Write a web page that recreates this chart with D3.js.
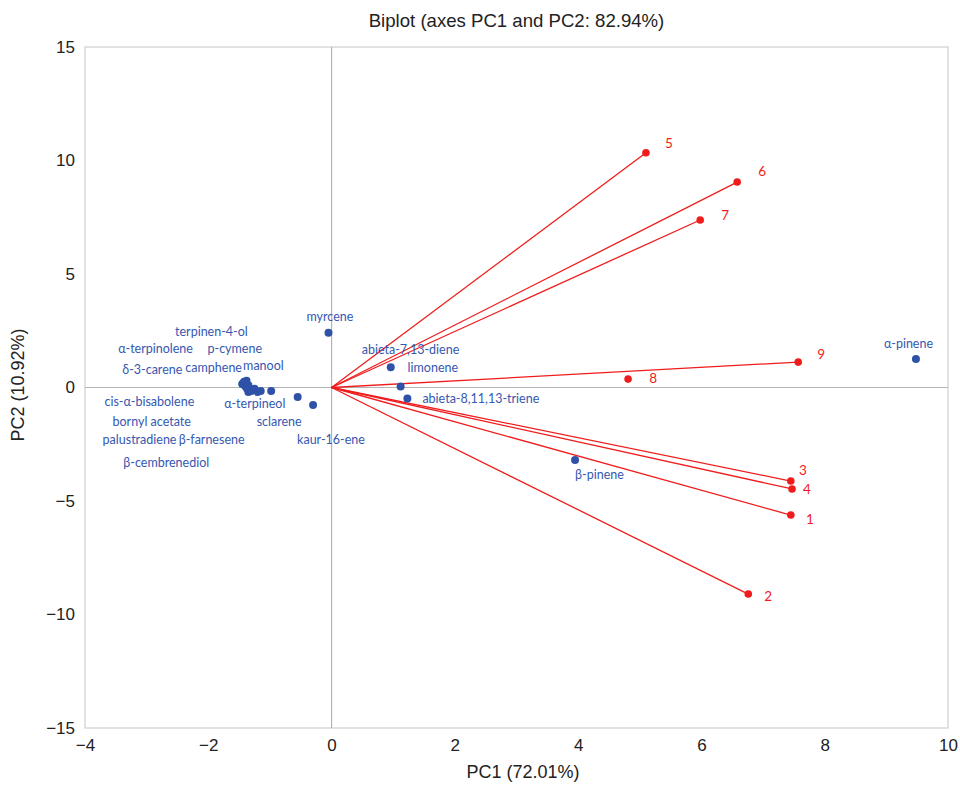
<!DOCTYPE html>
<html><head><meta charset="utf-8">
<script src="https://cdn.jsdelivr.net/npm/d3@7"></script>
<style>body{margin:0;background:#fff}</style>
</head><body>
<svg id="chart" width="960" height="787"></svg>
<script>
// ---- data ----
const obsNames = ["terpinen-4-ol","α-terpinolene","p-cymene","δ-3-carene","camphene","manool",
  "cis-α-bisabolene","bornyl acetate","palustradiene","β-farnesene","β-cembrenediol",
  "α-terpineol","sclarene","kaur-16-ene","myrcene","abieta-7,13-diene","limonene",
  "abieta-8,11,13-triene","α-pinene","β-pinene"];
const obsPC1 = [-1.42,-1.45,-1.38,-1.40,-1.35,-1.37,-1.30,-1.25,-1.20,-1.15,-1.35,
  -0.98,-0.55,-0.30,-0.05,0.96,1.12,1.23,9.48,3.95];
const obsPC2 = [0.25,0.15,0.30,0.05,0.10,-0.05,-0.15,-0.05,-0.20,-0.15,-0.20,
  -0.15,-0.42,-0.77,2.41,0.89,0.04,-0.48,1.26,-3.19];
const varNames = ["1","2","3","4","5","6","7","8","9"];
const varPC1 = [7.45,6.76,7.45,7.47,5.10,6.58,5.98,4.81,7.57];
const varPC2 = [-5.62,-9.10,-4.12,-4.47,10.34,9.05,7.38,0.37,1.12];
const varShowVector = [true,true,true,true,true,true,true,false,true];
const xTicks = [-4,-2,0,2,4,6,8,10];
const yTicks = [-15,-10,-5,0,5,10,15];
const title = "Biplot (axes PC1 and PC2: 82.94%)";
const xTitle = "PC1 (72.01%)";
const yTitle = "PC2 (10.92%)";

// ---- layout (label offsets in px from the point) ----
const obsLabelOffset = [[-69,-49],[-124,-34],[-39,-31],[-123,-16],[-63,-16],[-4,-22],
  [-147,12],[-142,34],[-155,49],[-82,50],[-125,72],
  [-47,14],[-41,26],[-16,36],[-22,-15],[-29,-16],[7,-18],[15,1],[-32,-14],[0,16]];
const varLabelOffset = [[19,6],[20,4],[12,-9],[15,2],[23,-8],[25,-9],[25,-3],[25,0],[23,-6]];

const svg = d3.select("#chart");
const L = 85, R = 948, T = 47, B = 728;
const x = d3.scaleLinear().domain([-4,10]).range([L,R]);
const y = d3.scaleLinear().domain([-15,15]).range([B,T]);

const blue = "#2f52a8", blueText = "#3558b0", red = "#f01c1c";
const axisFont = "'Liberation Sans', Arial, sans-serif";
const labFont = "Lato, 'Open Sans', sans-serif";

// frame
svg.append("rect").attr("x",L).attr("y",T).attr("width",R-L).attr("height",B-T)
  .attr("fill","none").attr("stroke","#cfcfcf").attr("stroke-width",1.2);
// zero lines
svg.append("line").attr("x1",x(0)).attr("x2",x(0)).attr("y1",T).attr("y2",B)
  .attr("stroke","#b5b5b5").attr("stroke-width",1.2);
svg.append("line").attr("x1",L).attr("x2",R).attr("y1",y(0)).attr("y2",y(0))
  .attr("stroke","#b5b5b5").attr("stroke-width",1.2);

// axes tick labels via d3 axes
const xAxis = svg.append("g").attr("transform",`translate(0,${B})`)
  .call(d3.axisBottom(x).tickValues(xTicks).tickSize(0).tickPadding(11)
    .tickFormat(d => d3.format("")(d).replace("-","−")));
const yAxis = svg.append("g").attr("transform",`translate(${L},0)`)
  .call(d3.axisLeft(y).tickValues(yTicks).tickSize(0).tickPadding(10)
    .tickFormat(d => d3.format("")(d).replace("-","−")));
[xAxis,yAxis].forEach(g => {
  g.select(".domain").remove();
  g.selectAll("text").attr("font-family",axisFont).attr("font-size",17).attr("fill","#222");
});

// titles
svg.append("text").attr("x",(L+R)/2).attr("y",22).attr("text-anchor","middle")
  .attr("dominant-baseline","middle").attr("font-family",axisFont).attr("font-size",18.6)
  .attr("fill","#222").text(title);
svg.append("text").attr("x",523).attr("y",773).attr("text-anchor","middle")
  .attr("dominant-baseline","middle").attr("font-family",axisFont).attr("font-size",18)
  .attr("fill","#222").text(xTitle);
svg.append("text").attr("transform","translate(19,385) rotate(-90)").attr("text-anchor","middle")
  .attr("dominant-baseline","middle").attr("font-family",axisFont).attr("font-size",18)
  .attr("fill","#222").text(yTitle);

// vectors
const vars = varNames.map((n,i)=>({n, px:varPC1[i], py:varPC2[i], show:varShowVector[i], off:varLabelOffset[i]}));
svg.append("g").selectAll("line").data(vars.filter(d=>d.show)).join("line")
  .attr("x1",x(0)).attr("y1",y(0)).attr("x2",d=>x(d.px)).attr("y2",d=>y(d.py))
  .attr("stroke",red).attr("stroke-width",1.3);
svg.append("g").selectAll("circle").data(vars).join("circle")
  .attr("cx",d=>x(d.px)).attr("cy",d=>y(d.py)).attr("r",3.8).attr("fill",red);
svg.append("g").selectAll("text").data(vars).join("text")
  .attr("x",d=>x(d.px)+d.off[0]).attr("y",d=>y(d.py)+d.off[1])
  .attr("dominant-baseline","middle").attr("text-anchor","middle")
  .attr("font-family",labFont).attr("font-size",13.5).attr("fill",red).text(d=>d.n);

// observations
const obs = obsNames.map((n,i)=>({n, px:obsPC1[i], py:obsPC2[i], off:obsLabelOffset[i]}));
svg.append("g").selectAll("circle").data(obs).join("circle")
  .attr("cx",d=>x(d.px)).attr("cy",d=>y(d.py)).attr("r",4).attr("fill",blue);
svg.append("g").selectAll("text").data(obs).join("text")
  .attr("x",d=>x(d.px)+d.off[0]).attr("y",d=>y(d.py)+d.off[1])
  .attr("dominant-baseline","middle")
  .attr("font-family",labFont).attr("font-size",12.5).attr("fill",blueText).text(d=>d.n);
</script>
</body></html>
